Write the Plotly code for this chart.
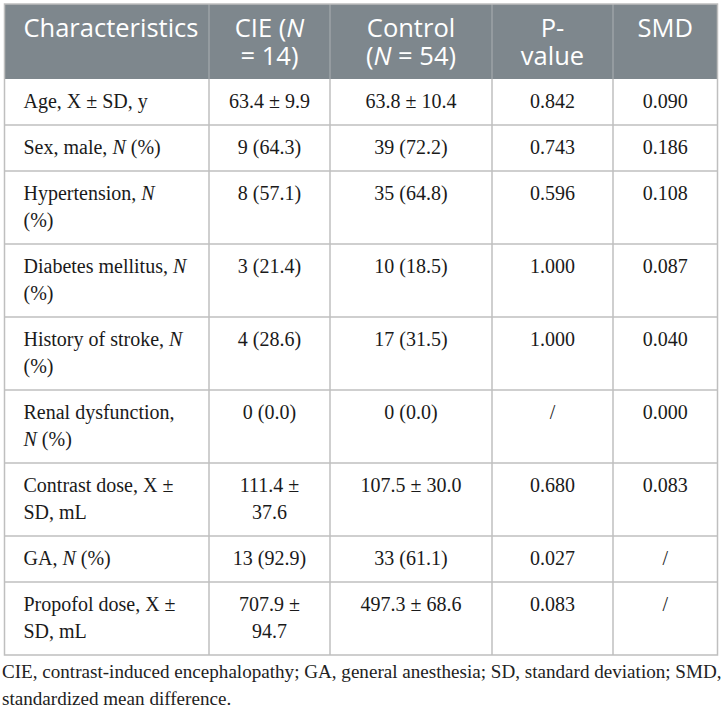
import plotly.graph_objects as go

# table content, line breaks as in the printed table
headers = ["Characteristics", "CIE (<i>N</i><br>= 14)", "Control<br>(<i>N</i> = 54)", "P-<br>value", "SMD"]
characteristics = [
    "Age, X ± SD, y",
    "Sex, male, <i>N</i> (%)",
    "Hypertension, <i>N</i><br>(%)",
    "Diabetes mellitus, <i>N</i><br>(%)",
    "History of stroke, <i>N</i><br>(%)",
    "Renal dysfunction,<br><i>N</i> (%)",
    "Contrast dose, X ±<br>SD, mL",
    "GA, <i>N</i> (%)",
    "Propofol dose, X ±<br>SD, mL",
]
cie = ["63.4 ± 9.9", "9 (64.3)", "8 (57.1)", "3 (21.4)", "4 (28.6)", "0 (0.0)",
       "111.4 ±<br>37.6", "13 (92.9)", "707.9 ±<br>94.7"]
control = ["63.8 ± 10.4", "39 (72.2)", "35 (64.8)", "10 (18.5)", "17 (31.5)", "0 (0.0)",
           "107.5 ± 30.0", "33 (61.1)", "497.3 ± 68.6"]
p_value = ["0.842", "0.743", "0.596", "1.000", "1.000", "/", "0.680", "0.027", "0.083"]
smd = ["0.090", "0.186", "0.108", "0.087", "0.040", "0.000", "0.083", "/", "/"]
caption = [
    "CIE, contrast-induced encephalopathy; GA, general anesthesia; SD, standard deviation; SMD,",
    "standardized mean difference.",
]

W, H = 723, 712
col_edges = [4.5, 209, 330, 492, 613, 717.5]
table_top, header_h = 4, 75
line_h = 27
head_line_h = 28
grid = "#bfbfbf"
head_fill = "#7e878d"
head_sep = "#a4aaae"
serif = "Liberation Serif"
sans = "Open Sans"

columns = [characteristics, cie, control, p_value, smd]

# row boundaries from line counts
row_lines = [max(len(c[i].split("<br>")) for c in columns) for i in range(len(characteristics))]
row_tops = []
y = table_top + header_h
for n in row_lines:
    row_tops.append(y)
    y += 19 + line_h * n
table_bottom = y

fig = go.Figure()
shapes = []
shapes.append(dict(type="rect", x0=col_edges[0], x1=col_edges[-1], y0=table_top, y1=table_top + header_h,
                   fillcolor=head_fill, line=dict(width=0), layer="below"))
for x in col_edges[1:-1]:
    shapes.append(dict(type="line", x0=x, x1=x, y0=table_top, y1=table_top + header_h,
                       line=dict(color=head_sep, width=1.2)))
    shapes.append(dict(type="line", x0=x, x1=x, y0=table_top + header_h, y1=table_bottom,
                       line=dict(color=grid, width=1.5)))
for yt in row_tops[1:]:
    shapes.append(dict(type="line", x0=col_edges[0], x1=col_edges[-1], y0=yt, y1=yt,
                       line=dict(color=grid, width=1.5)))
shapes.append(dict(type="rect", x0=col_edges[0], x1=col_edges[-1], y0=table_top, y1=table_bottom,
                   line=dict(color=grid, width=1.5)))

# header text
for j, h in enumerate(headers):
    xs, ys, ts = [], [], []
    for k, part in enumerate(h.split("<br>")):
        ys.append(table_top + 27 + head_line_h * k)
        ts.append(part)
        xs.append(col_edges[0] + 19 if j == 0 else (col_edges[j] + col_edges[j + 1]) / 2)
    fig.add_trace(go.Scatter(x=xs, y=ys, text=ts, mode="text",
                             textposition="middle right" if j == 0 else "middle center",
                             textfont=dict(family=sans, size=25.5, color="white"),
                             hoverinfo="skip", showlegend=False))

# body text
for j, col in enumerate(columns):
    xs, ys, ts = [], [], []
    for i, cell in enumerate(col):
        for k, part in enumerate(cell.split("<br>")):
            ys.append(row_tops[i] + 24 + line_h * k)
            ts.append(part)
            xs.append(col_edges[0] + 19 if j == 0 else (col_edges[j] + col_edges[j + 1]) / 2)
    fig.add_trace(go.Scatter(x=xs, y=ys, text=ts, mode="text",
                             textposition="middle right" if j == 0 else "middle center",
                             textfont=dict(family=serif, size=20, color="#1a1a1a"),
                             hoverinfo="skip", showlegend=False))

# footnote
fig.add_trace(go.Scatter(x=[2] * len(caption),
                         y=[table_bottom + 18 + line_h * k for k in range(len(caption))],
                         text=caption, mode="text", textposition="middle right",
                         textfont=dict(family=serif, size=19.1, color="#222222"),
                         hoverinfo="skip", showlegend=False))

fig.update_layout(
    width=W, height=H,
    margin=dict(l=0, r=0, t=0, b=0),
    paper_bgcolor="white", plot_bgcolor="white",
    xaxis=dict(range=[0, W], visible=False, fixedrange=True),
    yaxis=dict(range=[H, 0], visible=False, fixedrange=True),
    shapes=shapes,
)

# drop the default 8px page margin so the table sits flush like the original
fig.write_html("out.html", config={"displayModeBar": False},
               post_script="document.body.style.margin = '0';")
